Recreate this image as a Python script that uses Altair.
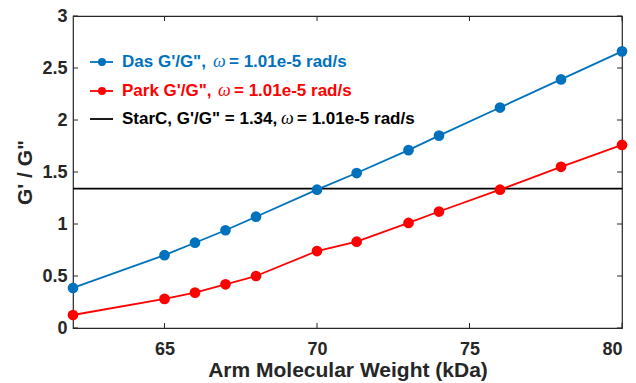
import altair as alt
import pandas as pd

# ---- data ----
mw = [62, 65, 66, 67, 68, 70, 71.3, 73, 74, 76, 78, 80]
das = [0.385, 0.70, 0.82, 0.94, 1.07, 1.33, 1.49, 1.71, 1.85, 2.12, 2.39, 2.66]
park = [0.125, 0.28, 0.34, 0.42, 0.50, 0.74, 0.83, 1.01, 1.12, 1.33, 1.55, 1.76]
starc = [1.34]
x_ticks = [65, 70, 75, 80]
y_ticks = [0, 0.5, 1, 1.5, 2, 2.5, 3]
x_dom = [62, 80]
y_dom = [0, 3]

leg_pre = ["Das G'/G\",", "Park G'/G\",", "StarC, G'/G\" = 1.34,"]
leg_post = ["=  1.01e-5 rad/s", "= 1.01e-5 rad/s", "= 1.01e-5 rad/s"]
leg_colors = ["#0072BD", "#FF0000", "#000000"]
leg_marker = [True, True, False]

# ---- layout ----
W, H = 549, 312
FONT = "Liberation Sans"
AX = "#262626"
TICK = 5

df = pd.DataFrame({"mw": mw, "das": das, "park": park})
df_s = pd.DataFrame({"g": starc})
df_xt = pd.DataFrame({"xt": x_ticks})
df_yt = pd.DataFrame({"yt": y_ticks})

xs = alt.Scale(domain=x_dom, nice=False, zero=False)
ys = alt.Scale(domain=y_dom, nice=False, zero=False)

# tick length expressed in data units of each scale
tx = TICK * (x_dom[1] - x_dom[0]) / W
ty = TICK * (y_dom[1] - y_dom[0]) / H

x_main = alt.Axis(values=x_ticks, ticks=False, domain=False, grid=False,
                  labelFont=FONT, labelFontSize=18, labelFontWeight="bold",
                  labelColor=AX, labelPadding=12,
                  title="Arm Molecular Weight (kDa)", titleFont=FONT,
                  titleFontSize=21, titleFontWeight="bold", titleColor=AX,
                  titlePadding=1)
y_main = alt.Axis(values=y_ticks, format="~g", ticks=False, domain=False,
                  grid=False, labelFont=FONT, labelFontSize=18,
                  labelFontWeight="bold", labelColor=AX, labelPadding=6,
                  title="G' / G\"", titleFont=FONT, titleFontSize=21,
                  titleFontWeight="bold", titleColor=AX, titlePadding=6)

base = alt.Chart(df)

rule = alt.Chart(df_s).mark_rule(color="black", strokeWidth=1.6).encode(
    y=alt.Y("g:Q", scale=ys, axis=None))
das_line = base.mark_line(color="#0072BD", strokeWidth=1.8).encode(
    x=alt.X("mw:Q", scale=xs, axis=x_main),
    y=alt.Y("das:Q", scale=ys, axis=y_main))
das_pts = base.mark_circle(color="#0072BD", size=115, opacity=1).encode(
    x=alt.X("mw:Q", scale=xs, axis=None),
    y=alt.Y("das:Q", scale=ys, axis=None))
park_line = base.mark_line(color="#FF0000", strokeWidth=1.8).encode(
    x=alt.X("mw:Q", scale=xs, axis=None),
    y=alt.Y("park:Q", scale=ys, axis=None))
park_pts = base.mark_circle(color="#FF0000", size=115, opacity=1).encode(
    x=alt.X("mw:Q", scale=xs, axis=None),
    y=alt.Y("park:Q", scale=ys, axis=None))

# inward ticks on all four sides (MATLAB box style)
xt = alt.Chart(df_xt)
yt = alt.Chart(df_yt)
ticks = [
    xt.mark_rule(color=AX, strokeWidth=1).encode(
        x=alt.X("xt:Q", scale=xs, axis=None),
        y=alt.YDatum(y_dom[0], axis=None), y2=alt.datum(y_dom[0] + ty)),
    xt.mark_rule(color=AX, strokeWidth=1).encode(
        x=alt.X("xt:Q", scale=xs, axis=None),
        y=alt.YDatum(y_dom[1] - ty, axis=None), y2=alt.datum(y_dom[1])),
    yt.mark_rule(color=AX, strokeWidth=1).encode(
        y=alt.Y("yt:Q", scale=ys, axis=None),
        x=alt.XDatum(x_dom[0], axis=None), x2=alt.datum(x_dom[0] + tx)),
    yt.mark_rule(color=AX, strokeWidth=1).encode(
        y=alt.Y("yt:Q", scale=ys, axis=None),
        x=alt.XDatum(x_dom[1] - tx, axis=None), x2=alt.datum(x_dom[1])),
]

layers = [rule, das_line] + ticks + [das_pts, park_line, park_pts]

# ---- manual legend (pixel layout, relative to plot area) ----
row_y = [46, 75, 103]
pre_x = 49
omega_x = [140, 145, 208]
post_x = [156, 161, 224]
for i in range(3):
    c = leg_colors[i]
    layers.append(alt.Chart(df_s).mark_rule(color=c, strokeWidth=1.8).encode(
        x=alt.value(17), x2=alt.value(40), y=alt.value(row_y[i])))
    if leg_marker[i]:
        layers.append(alt.Chart(df_s).mark_circle(color=c, size=64, opacity=1).encode(
            x=alt.value(29), y=alt.value(row_y[i])))
    layers.append(alt.Chart(df_s).mark_text(
        text=leg_pre[i], align="left", baseline="middle", font=FONT,
        fontSize=17, fontWeight="bold", color=c).encode(
        x=alt.value(pre_x), y=alt.value(row_y[i])))
    layers.append(alt.Chart(df_s).mark_text(
        text="ω", align="left", baseline="middle", font="Liberation Serif",
        fontSize=18, fontStyle="italic", fontWeight="normal",
        color=c).encode(
        x=alt.value(omega_x[i]), y=alt.value(row_y[i])))
    layers.append(alt.Chart(df_s).mark_text(
        text=leg_post[i], align="left", baseline="middle", font=FONT,
        fontSize=17, fontWeight="bold", color=c).encode(
        x=alt.value(post_x[i]), y=alt.value(row_y[i])))

chart = alt.layer(*layers).resolve_axis(x="independent", y="independent").properties(
    width=W, height=H,
    autosize=alt.AutoSizeParams(type="none"),
    padding={"left": 73, "top": 16, "right": 14, "bottom": 55},
    background="white",
).configure_view(stroke=AX, strokeWidth=1.2)

chart.save("out.html", embed_options={"renderer": "svg", "actions": False})
